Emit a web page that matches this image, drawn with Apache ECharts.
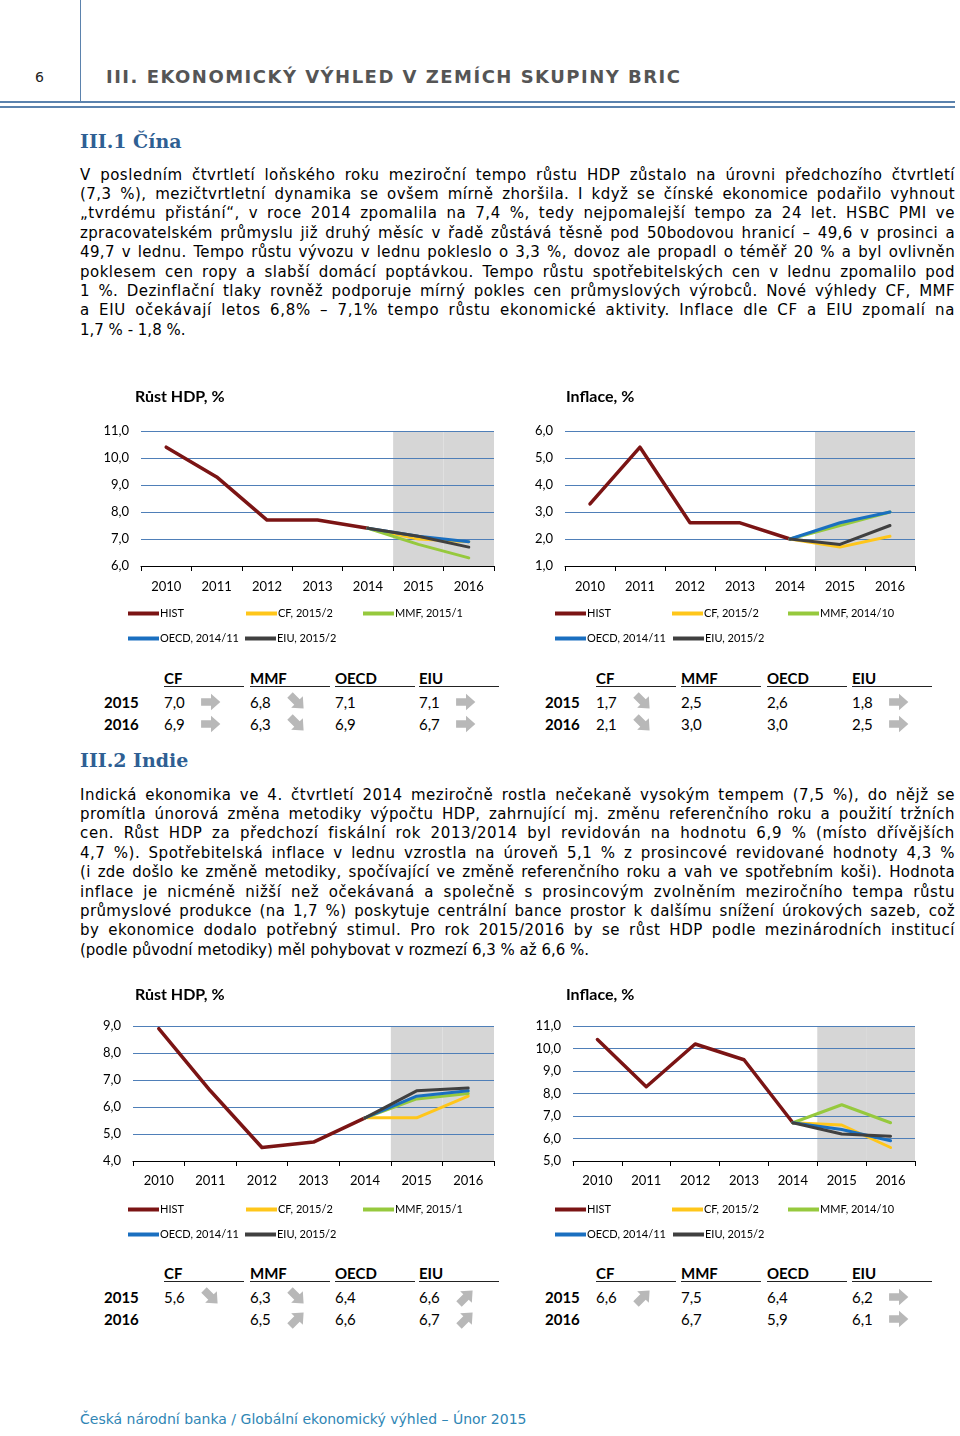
<!DOCTYPE html>
<html><head><meta charset="utf-8">
<script src="https://cdn.jsdelivr.net/npm/echarts/dist/echarts.min.js"></script>
<style>
body{margin:0;background:#fff;width:960px;height:1436px;position:relative;overflow:hidden;font-family:'DejaVu Sans',Verdana,sans-serif;}
.abs{position:absolute;white-space:nowrap;}
.line{position:absolute;left:80px;width:875px;white-space:nowrap;font-size:15px;line-height:19px;height:19px;color:#000;}
.just{text-align:justify;text-align-last:justify;}
.tb{position:absolute;font-family:Lato,'Open Sans',sans-serif;font-size:15px;color:#000;white-space:nowrap;line-height:18px;}
.chart{position:absolute;width:430px;height:270px;}
</style></head><body>
<div id="page"></div>
<div id="c1" class="chart" style="left:80px;top:380px"></div>
<div id="c2" class="chart" style="left:520px;top:380px"></div>
<div id="c3" class="chart" style="left:80px;top:980px"></div>
<div id="c4" class="chart" style="left:520px;top:980px"></div>
<script>
// ---------- DATA ----------
const years = ['2010','2011','2012','2013','2014','2015','2016'];

// China GDP
const cnGdpHist = [10.4, 9.3, 7.7, 7.7, 7.4, null, null];
const cnGdpCF   = [null, null, null, null, 7.4, 7.0, 6.9];
const cnGdpMMF  = [null, null, null, null, 7.4, 6.8, 6.3];
const cnGdpOECD = [null, null, null, null, 7.4, 7.1, 6.9];
const cnGdpEIU  = [null, null, null, null, 7.4, 7.1, 6.7];
// China inflation
const cnInfHist = [3.3, 5.4, 2.6, 2.6, 2.0, null, null];
const cnInfCF   = [null, null, null, null, 2.0, 1.7, 2.1];
const cnInfMMF  = [null, null, null, null, 2.0, 2.5, 3.0];
const cnInfOECD = [null, null, null, null, 2.0, 2.6, 3.0];
const cnInfEIU  = [null, null, null, null, 2.0, 1.8, 2.5];
// India GDP
const inGdpHist = [8.9, 6.6, 4.5, 4.7, 5.6, null, null];
const inGdpCF   = [null, null, null, null, 5.6, 5.6, 6.4];
const inGdpMMF  = [null, null, null, null, 5.6, 6.3, 6.5];
const inGdpOECD = [null, null, null, null, 5.6, 6.4, 6.6];
const inGdpEIU  = [null, null, null, null, 5.6, 6.6, 6.7];
// India inflation
const inInfHist = [10.4, 8.3, 10.2, 9.5, 6.7, null, null];
const inInfCF   = [null, null, null, null, 6.7, 6.6, 5.6];
const inInfMMF  = [null, null, null, null, 6.7, 7.5, 6.7];
const inInfOECD = [null, null, null, null, 6.7, 6.4, 5.9];
const inInfEIU  = [null, null, null, null, 6.7, 6.2, 6.1];

// legend names
const namesGdp = ['HIST','CF, 2015/2','MMF, 2015/1','OECD, 2014/11','EIU, 2015/2'];
const namesInf = ['HIST','CF, 2015/2','MMF, 2014/10','OECD, 2014/11','EIU, 2015/2'];

// tables
const tblCols = ['CF','MMF','OECD','EIU'];
const tblRows = ['2015','2016'];
const cnGdpTbl  = [['7,0','6,8','7,1','7,1'], ['6,9','6,3','6,9','6,7']];
const cnGdpArr  = [['r','dr',null,'r'], ['r','dr',null,'r']];
const cnInfTbl  = [['1,7','2,5','2,6','1,8'], ['2,1','3,0','3,0','2,5']];
const cnInfArr  = [['dr',null,null,'r'], ['dr',null,null,'r']];
const inGdpTbl  = [['5,6','6,3','6,4','6,6'], ['','6,5','6,6','6,7']];
const inGdpArr  = [['dr','dr',null,'ur'], [null,'ur',null,'ur']];
const inInfTbl  = [['6,6','7,5','6,4','6,2'], ['','6,7','5,9','6,1']];
const inInfArr  = [['ur',null,null,'r'], [null,null,null,'r']];

// text
const headerNum = '6';
const headerTitle = 'III. EKONOMICKÝ VÝHLED V ZEMÍCH SKUPINY BRIC';
const sec1Title = 'III.1 Čína';
const sec2Title = 'III.2 Indie';
const para1 = [
 'V posledním čtvrtletí loňského roku meziroční tempo růstu HDP zůstalo na úrovni předchozího čtvrtletí',
 '(7,3 %), mezičtvrtletní dynamika se ovšem mírně zhoršila.  I když se čínské ekonomice podařilo vyhnout',
 '„tvrdému přistání“, v roce 2014 zpomalila na 7,4 %, tedy nejpomalejší tempo za 24 let. HSBC PMI ve',
 'zpracovatelském průmyslu již druhý měsíc v řadě zůstává těsně pod 50bodovou hranicí – 49,6 v prosinci a',
 '49,7 v lednu. Tempo růstu vývozu v lednu pokleslo o 3,3 %, dovoz ale propadl o téměř 20 % a byl ovlivněn',
 'poklesem cen ropy a slabší domácí poptávkou. Tempo růstu spotřebitelských cen v lednu zpomalilo pod',
 '1 %. Dezinflační tlaky rovněž podporuje mírný pokles cen průmyslových výrobců. Nové výhledy CF, MMF',
 'a EIU očekávají letos 6,8% – 7,1% tempo růstu ekonomické aktivity. Inflace dle CF a EIU zpomalí na',
 '1,7 % - 1,8 %.'
];
const para2 = [
 'Indická ekonomika ve 4. čtvrtletí 2014 meziročně rostla nečekaně vysokým tempem (7,5 %), do nějž se',
 'promítla únorová změna metodiky výpočtu HDP, zahrnující mj. změnu referenčního roku a použití tržních',
 'cen. Růst HDP za předchozí fiskální rok 2013/2014 byl revidován na hodnotu 6,9 % (místo dřívějších',
 '4,7 %). Spotřebitelská inflace v lednu vzrostla na úroveň 5,1 % z prosincové revidované hodnoty 4,3 %',
 '(i zde došlo ke změně metodiky, spočívající ve změně referenčního roku a vah ve spotřebním koši). Hodnota',
 'inflace je nicméně nižší než očekávaná a společně s prosincovým zvolněním meziročního tempa růstu',
 'průmyslové produkce (na 1,7 %) poskytuje centrální bance prostor k dalšímu snížení úrokových sazeb, což',
 'by ekonomice dodalo potřebný stimul. Pro rok 2015/2016 by se růst HDP podle mezinárodních institucí',
 '(podle původní metodiky) měl pohybovat v rozmezí 6,3 % až 6,6 %.'
];
const footer = 'Česká národní banka / Globální ekonomický výhled – Únor 2015';

// ---------- PAGE ----------
const page = document.getElementById('page');
function add(html){ page.insertAdjacentHTML('beforeend', html); return page.lastElementChild; }
function fitWidth(el, target){
  const w = el.getBoundingClientRect().width;
  const n = el.textContent.length;
  if (n > 1) el.style.letterSpacing = ((target - w) / (n - 1)) + 'px';
}
// header rules
add('<div class="abs" style="left:80px;top:0;width:1px;height:102px;background:#5b82ad"></div>');
add('<div class="abs" style="left:0;top:101px;width:955px;height:2px;background:#5b82ad"></div>');
add('<div class="abs" style="left:0;top:106px;width:955px;height:1.5px;background:#5b82ad"></div>');
add(`<div class="abs" style="left:35px;top:69px;font-size:14px;color:#222">${headerNum}</div>`);
const ht = add(`<div class="abs" style="left:106px;top:66px;font-size:18px;font-weight:bold;color:#555">${headerTitle}</div>`);
fitWidth(ht, 574);
add(`<div class="abs" style="left:80px;top:130px;font-family:'DejaVu Serif',serif;font-size:19px;font-weight:bold;color:#2f5f93">${sec1Title}</div>`);
add(`<div class="abs" style="left:80px;top:749px;font-family:'DejaVu Serif',serif;font-size:19px;font-weight:bold;color:#2f5f93">${sec2Title}</div>`);

function paragraph(lines, y0){
  lines.forEach((t,i)=>{
    const last = i === lines.length-1;
    const d = add(`<div class="line" style="top:${(y0 + i*19.4 - 9.5).toFixed(1)}px"><span>${t}</span></div>`);
    const sp = d.firstChild;
    const w = sp.getBoundingClientRect().width;
    if (!last) {
      const slack = 875 - w;
      const ls = slack > 0 ? slack * 0.5 / t.length : slack / t.length;
      sp.style.letterSpacing = ls + 'px';
      d.classList.add('just');
    }
  });
}
paragraph(para1, 175);
paragraph(para2, 795);
add(`<div class="abs" style="left:80px;top:1411px;font-size:14px;color:#2f86b5">${footer}</div>`);

// tables
function arrowSvg(kind){
  const rot = kind === 'dr' ? 45 : (kind === 'ur' ? -45 : 0);
  return `<svg width="22" height="22" viewBox="0 0 20 20" style="position:absolute"><g transform="rotate(${rot} 10 10)"><path d="M1,6.5 H10 V2.5 L18.5,10 L10,17.5 V13.5 H1 Z" fill="#b8b8b8"/></g></svg>`;
}
function table(vals, arrs, rowX, colX, yHead, yLine, yRows){
  colX.forEach((x,j)=>{
    add(`<div class="tb" style="left:${x}px;top:${yHead-9}px;font-weight:bold">${tblCols[j]}</div>`);
    add(`<div class="abs" style="left:${x}px;top:${yLine}px;width:80px;height:1.3px;background:#222"></div>`);
  });
  tblRows.forEach((r,i)=>{
    add(`<div class="tb" style="left:${rowX}px;top:${yRows[i]-9}px;font-weight:bold">${r}</div>`);
    colX.forEach((x,j)=>{
      add(`<div class="tb" style="left:${x}px;top:${yRows[i]-9}px">${vals[i][j]}</div>`);
      const a = arrs[i][j];
      if (a) add(`<div class="abs" style="left:${x+36}px;top:${yRows[i]-11}px;width:22px;height:22px">${arrowSvg(a)}</div>`);
    });
  });
}
table(cnGdpTbl, cnGdpArr, 104, [164,250,335,419], 678, 686, [702,724]);
table(cnInfTbl, cnInfArr, 545, [596,681,767,852], 678, 686, [702,724]);
table(inGdpTbl, inGdpArr, 104, [164,250,335,419], 1273, 1281, [1297,1319]);
table(inInfTbl, inInfArr, 545, [596,681,767,852], 1273, 1281, [1297,1319]);

// ---------- CHARTS ----------
const colors = ['#7b1414','#ffc61a','#96c93d','#1a6fc0','#404040'];
const FONT = 'Lato';
function makeChart(id, cfg){
  const ch = echarts.init(document.getElementById(id), null, {renderer:'canvas'});
  const g = cfg.grid;
  const legendPos = [
    [cfg.leg[0], cfg.row1], [cfg.leg[1], cfg.row1], [cfg.leg[2], cfg.row1],
    [cfg.leg[0], cfg.row2], [cfg.leg[3], cfg.row2]
  ];
  const shade = years.map((y,i)=> i >= 5 ? cfg.max : null);
  const series = [{
    type:'bar', data: shade, barWidth:'100%', silent:true, z:1,
    itemStyle:{color:'#d6d6d6'}, animation:false
  }];
  cfg.data.forEach((d,i)=>{
    series.push({
      type:'line', name: cfg.names[i], data: d, symbol:'none', z: 3 + (i===0?0:i),
      lineStyle:{color: colors[i], width: i===0 ? 3.5 : 3, cap:'round', join:'round'},
      itemStyle:{color: colors[i]}, connectNulls:false, animation:false
    });
  });
  ch.setOption({
    animation:false,
    title:[{text: cfg.title, left: cfg.titleX, top: cfg.titleY - 10, padding:0,
      textStyle:{fontFamily:FONT, fontSize:16, fontWeight:'bold', color:'#000'}}],
    legend: cfg.names.map((n,i)=>({
      data:[n], left: legendPos[i][0], top: legendPos[i][1] - 6, padding:0,
      icon:'rect', itemWidth:31, itemHeight:4, selectedMode:false,
      textStyle:{fontFamily:FONT, fontSize:11, color:'#000', padding:[0,0,0,-4]}
    })),
    grid:{left:g[0], top:g[1], width:g[2], height:g[3], containLabel:false},
    xAxis:{type:'category', data: years, boundaryGap:true, z:5,
      axisLine:{lineStyle:{color:'#000', width:1}},
      axisTick:{show:true, alignWithLabel:false, interval:0, length:5, lineStyle:{color:'#000'}},
      axisLabel:{fontFamily:FONT, fontSize:13, color:'#000', margin: cfg.xMargin, interval:0},
      splitLine:{show:false}},
    yAxis:{type:'value', min: cfg.min, max: cfg.max, interval:1, z:2,
      axisLine:{show:false}, axisTick:{show:false},
      axisLabel:{fontFamily:FONT, fontSize:13, color:'#000', margin:12,
        formatter: v => v.toFixed(1).replace('.', ',')},
      splitLine:{lineStyle:{color:'#4f7fb8', width:1}}},
    series
  });
}
makeChart('c1', {title:'Růst HDP, %', titleX:55, titleY:19, grid:[61,51,353,135],
  min:6, max:11, xMargin:14, names:namesGdp,
  data:[cnGdpHist,cnGdpCF,cnGdpMMF,cnGdpOECD,cnGdpEIU],
  leg:[48,166,283,165], row1:234, row2:259});
makeChart('c2', {title:'Inflace, %', titleX:46, titleY:19, grid:[45,51,350,135],
  min:1, max:6, xMargin:14, names:namesInf,
  data:[cnInfHist,cnInfCF,cnInfMMF,cnInfOECD,cnInfEIU],
  leg:[35,152,268,153], row1:234, row2:259});
makeChart('c3', {title:'Růst HDP, %', titleX:55, titleY:17, grid:[53,46,361,135],
  min:4, max:9, xMargin:13, names:namesGdp,
  data:[inGdpHist,inGdpCF,inGdpMMF,inGdpOECD,inGdpEIU],
  leg:[48,166,283,165], row1:230, row2:255});
makeChart('c4', {title:'Inflace, %', titleX:46, titleY:17, grid:[53,46,342,135],
  min:5, max:11, xMargin:13, names:namesInf,
  data:[inInfHist,inInfCF,inInfMMF,inInfOECD,inInfEIU],
  leg:[35,152,268,153], row1:230, row2:255});
</script>
</body></html>
